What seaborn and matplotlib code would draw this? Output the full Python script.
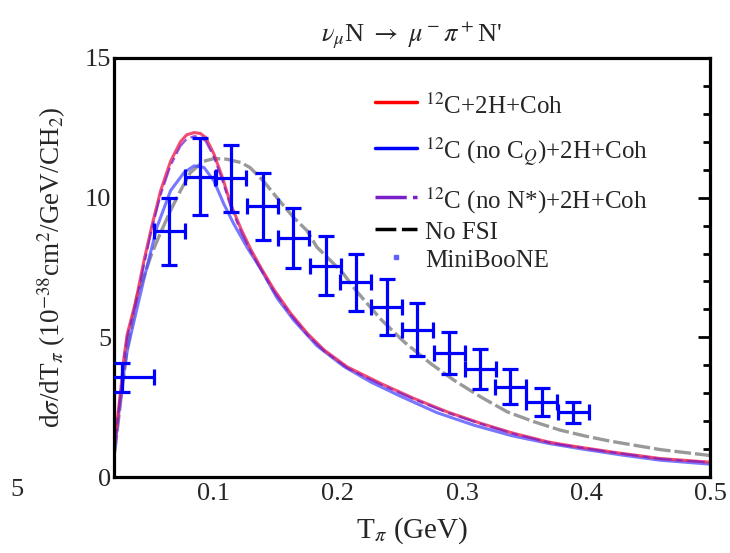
import numpy as np
import pandas as pd
import matplotlib
matplotlib.use("Agg")
import matplotlib.pyplot as plt
import seaborn as sns

# ---------------- data ----------------
red_x = [0.020, 0.0225, 0.025, 0.0275, 0.030, 0.037, 0.0436, 0.050, 0.057, 0.065, 0.073, 0.078,
         0.084, 0.089, 0.0934, 0.100, 0.1068, 0.1135, 0.1216, 0.1297, 0.1377, 0.1485, 0.162,
         0.1755, 0.189, 0.2075, 0.2345, 0.2614, 0.2882, 0.3152, 0.342, 0.369, 0.379, 0.396,
         0.42, 0.46, 0.50]
red_y = [1.2, 2.2, 3.2, 4.3, 5.1, 6.3, 7.75, 9.0, 10.25, 11.3, 12.0, 12.25,
         12.33, 12.3, 12.15, 11.56, 10.73, 9.77, 8.9, 8.15, 7.5, 6.7, 5.85,
         5.13, 4.54, 3.94, 3.35, 2.81, 2.33, 1.92, 1.56, 1.26, 1.18, 1.06,
         0.9, 0.66, 0.53]

purple_x = red_x
purple_y = [1.1, 2.1, 3.1, 4.2, 5.0, 6.2, 7.6, 8.9, 10.1, 11.15, 11.85, 12.1,
            12.2, 12.17, 12.02, 11.45, 10.62, 9.68, 8.8, 8.07, 7.43, 6.63, 5.8,
            5.08, 4.5, 3.9, 3.31, 2.78, 2.3, 1.9, 1.54, 1.25, 1.16, 1.05,
            0.89, 0.65, 0.52]

blue_x = [0.020, 0.0225, 0.025, 0.0275, 0.030, 0.033, 0.0436, 0.054, 0.065, 0.0759, 0.084, 0.092,
          0.100, 0.108, 0.116, 0.127, 0.1377, 0.151, 0.1646, 0.183, 0.205, 0.2265, 0.25, 0.28,
          0.31, 0.34, 0.37, 0.40, 0.43, 0.46, 0.50]
blue_y = [1.0, 2.0, 2.9, 3.8, 4.5, 5.1, 7.1, 8.94, 10.25, 10.9, 11.14, 11.08,
          10.6, 9.77, 9.06, 8.2, 7.45, 6.4, 5.6, 4.7, 3.95, 3.4, 2.9, 2.3,
          1.85, 1.48, 1.2, 0.98, 0.78, 0.6, 0.46]

nofsi_x = [0.020, 0.025, 0.030, 0.0377, 0.0498, 0.0565, 0.065, 0.073, 0.081, 0.0914, 0.100, 0.110,
           0.1216, 0.129, 0.1398, 0.1506, 0.164, 0.175, 0.183, 0.194, 0.2043, 0.215, 0.2345,
           0.253, 0.2748, 0.2937, 0.315, 0.3366, 0.358, 0.379, 0.401, 0.42, 0.46, 0.50]
nofsi_y = [0.9, 2.8, 4.6, 6.44, 7.99, 8.7, 9.54, 10.25, 10.9, 11.3, 11.4, 11.38,
           11.26, 11.08, 10.6, 10.01, 9.3, 8.82, 8.23, 7.75, 7.28, 6.65, 5.65,
           4.85, 4.06, 3.46, 2.87, 2.33, 1.98, 1.68, 1.45, 1.28, 0.98, 0.77]

mb_x = [0.026, 0.064, 0.089, 0.1135, 0.1395, 0.164, 0.190, 0.2145, 0.2394, 0.264, 0.2896,
        0.3146, 0.3388, 0.3644, 0.3896]
mb_y = [3.57, 8.8, 10.75, 10.7, 9.7, 8.56, 7.56, 6.98, 6.08, 5.28, 4.43, 3.88, 3.23, 2.70, 2.32]
mb_yerr = [0.52, 1.2, 1.38, 1.2, 1.2, 1.08, 1.06, 1.02, 1.01, 0.95, 0.76, 0.72, 0.62, 0.50, 0.38]
mb_xerr_lo = [0.026] + [0.0125] * 14
mb_xerr_hi = [0.026] + [0.0125] * 14

legend_labels = [r"$^{12}$C+2H+Coh", r"$^{12}$C (no C$_Q$)+2H+Coh",
                 r"$^{12}$C (no N*)+2H+Coh", "No FSI", "MiniBooNE"]
x_ticks = [0.1, 0.2, 0.3, 0.4, 0.5]
x_ticklabels = ["0.1", "0.2", "0.3", "0.4", "0.5"]
y_ticks = [0, 5, 10, 15]
y_ticklabels = ["0", "5", "10", "15"]

# ---------------- style ----------------
sns.set_theme(style="white")
plt.rcParams["font.family"] = ["Liberation Serif", "DejaVu Serif"]
plt.rcParams["mathtext.fontset"] = "stix"

fig = plt.figure(figsize=(7.3, 5.53), dpi=100)
ax = fig.add_axes([114 / 730, 1 - 477 / 553, 596 / 730, 419 / 553])

RED = "#f02050"
BLUE = "#4a4aff"
PURPLE = "#7a1fc8"

def line(x, y, **kw):
    df = pd.DataFrame({"x": x, "y": y})
    sns.lineplot(data=df, x="x", y="y", ax=ax, sort=False, estimator=None, **kw)

line(nofsi_x, nofsi_y, color="0.6", lw=2.4, linestyle=(0, (5, 1.2)))
line(blue_x, blue_y, color=BLUE, lw=2.2, alpha=0.75)
line(red_x, red_y, color=RED, lw=2.2, alpha=0.8)
line(purple_x, purple_y, color=PURPLE, lw=1.6, alpha=0.75, linestyle=(0, (8, 2, 3, 2)))

ax.errorbar(mb_x, mb_y, yerr=mb_yerr, xerr=[mb_xerr_lo, mb_xerr_hi], fmt="none",
            ecolor="#0000ff", elinewidth=2.3, capsize=5.5, capthick=2.3, zorder=5)

# ---------------- axes ----------------
ax.set_xlim(0.0194, 0.5)
ax.set_ylim(0, 15)
ax.set_xticks(x_ticks)
ax.set_xticklabels(x_ticklabels)
ax.set_yticks(y_ticks)
ax.set_yticklabels(y_ticklabels)
ax.set_xticks(np.arange(0.05, 0.5, 0.1), minor=True)
ax.set_yticks([v for v in range(0, 16) if v % 5 != 0], minor=True)
for s in ax.spines.values():
    s.set_linewidth(2.3)
    s.set_color("black")
ax.tick_params(axis="both", which="both", direction="in", color="black", width=2.0,
               labelsize=19, top=False, right=True)
ax.tick_params(axis="x", which="major", length=7.5, pad=4)
ax.tick_params(axis="x", which="minor", length=3)
ax.tick_params(axis="y", which="major", length=9, pad=2)
ax.tick_params(axis="y", which="minor", length=5)
ax.set_xlabel(r"T$_\pi$ (GeV)", fontsize=21, labelpad=8)
ax.set_ylabel(r"d$\sigma$/dT$_\pi$ (10$^{-38}$cm$^2$/GeV/CH$_2$)", fontsize=19.5, labelpad=12)
ax.set_title(r"$\nu_\mu$N $\rightarrow$ $\mu^-\pi^+$N'", fontsize=19, pad=12)

# ---------------- legend (manual, axes fraction) ----------------
def ay(py):
    return (477 - py) / 419

lx0, lx1, tx = (375 - 114) / 596, (417 - 114) / 596, (425 - 114) / 596
rows = [102, 148, 197, 229, 257]
styles = [dict(color="red", lw=2.5), dict(color="blue", lw=2.5),
          dict(color=PURPLE, lw=2.5, linestyle=(0, (9, 1.8, 3, 1.8, 1.2, 1.8))),
          dict(color="black", lw=2.5, linestyle=(0, (6, 1.6)))]
for r, st in zip(rows[:4], styles):
    ax.plot([lx0, lx1], [ay(r), ay(r)], transform=ax.transAxes, **st)
ax.plot([(396 - 114) / 596], [ay(257)], transform=ax.transAxes, marker="s", ms=3,
        color="#6060ff", lw=0)
for r, lab in zip(rows, legend_labels):
    ax.text(tx, ay(r + 4), lab, transform=ax.transAxes, fontsize=18, va="center", ha="left")

fig.text(17 / 730, 1 - 490 / 553, "5", fontsize=19, ha="center", va="center")

fig.savefig("out.png", dpi=100)
